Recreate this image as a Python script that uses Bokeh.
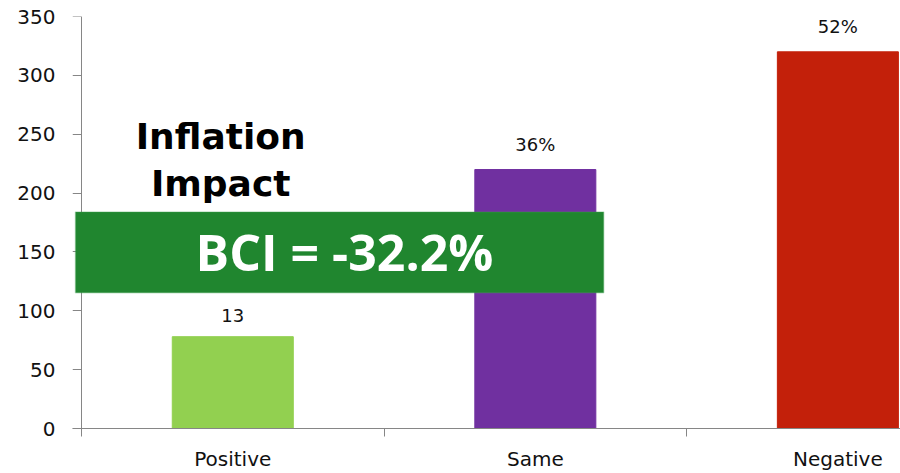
from bokeh.plotting import figure
from bokeh.models import ColumnDataSource, Range1d, FixedTicker, BoxAnnotation, Label, LinearAxis
from bokeh.core.properties import value
from bokeh.embed import file_html
from bokeh.resources import INLINE

categories = ["Positive", "Same", "Negative"]
counts = [78, 220, 320]
bar_labels = ["13", "36%", "52%"]
colors = ["#92D050", "#7030A0", "#C3200A"]
y_ticks = [0, 50, 100, 150, 200, 250, 300, 350]
title_lines = ["Inflation", "Impact"]
bci_text = "BCI = -32.2%"

xs = [i + 0.5 for i in range(len(categories))]
src = ColumnDataSource(dict(x=xs, top=counts, label=bar_labels, color=colors))

PX = 302.5  # pixels per category
p = figure(width=900, height=473, output_backend="svg", toolbar_location=None,
           x_range=Range1d(-9 / PX, 2.707), y_range=Range1d(0, 350),
           min_border_left=72, min_border_right=0, min_border_top=16, min_border_bottom=44)
p.outline_line_color = None
p.xgrid.grid_line_color = None
p.ygrid.grid_line_color = None
p.background_fill_color = "white"
p.border_fill_color = "white"

p.vbar(x="x", top="top", bottom=0, width=0.4, color="color", source=src)
p.text(x="x", y="top", text="label", source=src, text_align="center", text_baseline="bottom",
       y_offset=-15, text_font=value("DejaVu Sans"), text_font_size="18px", text_color="#111111")

# title lines
p.text(x=[0.46, 0.46], y=[248, 208], text=title_lines, text_align="center",
       text_baseline="middle", text_font=value("DejaVu Sans"), text_font_style="bold",
       text_font_size="36px", text_color="#000000")

# x axis
ax = p.xaxis[0]
ax.ticker = FixedTicker(ticks=xs, minor_ticks=[0, 1, 2, 3])
ax.major_label_overrides = {x: c for x, c in zip(xs, categories)}
ax.major_tick_line_color = None
ax.major_tick_out = 8
ax.major_tick_in = 0
ax.minor_tick_out = 8
ax.minor_tick_in = 0
ax.minor_tick_line_color = "#868686"
ax.axis_line_color = "#868686"
ax.major_label_standoff = 10
ax.major_label_text_font = "DejaVu Sans"
ax.major_label_text_font_size = "20px"
ax.major_label_text_color = "#111111"

# y axis labels (at frame edge)
ay = p.yaxis[0]
ay.ticker = FixedTicker(ticks=y_ticks)
ay.minor_tick_line_color = None
ay.major_tick_line_color = None
ay.major_tick_out = 0
ay.major_tick_in = 0
ay.axis_line_color = None
ay.major_label_standoff = 17
ay.major_label_text_font = "DejaVu Sans"
ay.major_label_text_font_size = "20px"
ay.major_label_text_color = "#111111"

# y axis line + ticks at x=0
ay2 = LinearAxis(fixed_location=0, ticker=FixedTicker(ticks=y_ticks))
ay2.minor_tick_line_color = None
ay2.major_tick_out = 9
ay2.major_tick_in = 0
ay2.major_tick_line_color = "#868686"
ay2.axis_line_color = "#868686"
ay2.major_label_standoff = 0
ay2.major_label_text_font_size = "0px"
ay2.major_label_text_color = None
p.add_layout(ay2, "left")

box = BoxAnnotation(left=-6 / PX, right=1.726, bottom=115.3, top=183.9,
                    fill_color="#20862F", fill_alpha=1.0, line_color="#3FA04E", line_width=1.5)
p.add_layout(box)
lbl = Label(x=0.869, y=150, text=bci_text, text_align="center", text_baseline="middle",
            text_font="Open Sans", text_font_style="bold", text_font_size="50px",
            text_color="white")
p.add_layout(lbl)

open("out.html", "w").write(file_html(p, INLINE))
